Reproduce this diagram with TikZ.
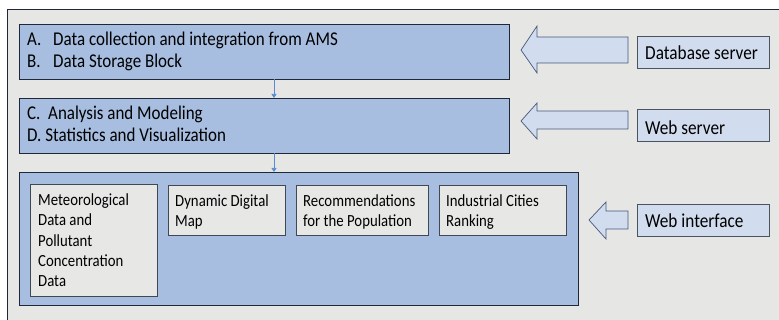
\documentclass[tikz,border=0pt]{standalone}
\usepackage{fontspec}
\setmainfont{Carlito}
\newfontfamily\tallfont[FakeStretch=0.87]{Carlito}
\usetikzlibrary{arrows.meta}
\definecolor{bgc}{HTML}{E6E7E5}
\definecolor{bigfill}{HTML}{A7BEE0}
\definecolor{darkline}{HTML}{1E2838}
\definecolor{lightfill}{HTML}{D1DCEE}
\definecolor{arrline}{HTML}{46587A}
\definecolor{subfill}{HTML}{E7E8E6}
\definecolor{linkc}{HTML}{5A8AD2}
\tikzset{
  bigbox/.style={draw=darkline, fill=bigfill, line width=0.9pt, anchor=north west, inner sep=0pt},
  subbox/.style={draw=darkline!85, fill=subfill, line width=0.9pt, anchor=north west, inner sep=0pt},
  srvbox/.style={draw=darkline!80, fill=lightfill, line width=0.9pt, anchor=north west, inner sep=0pt},
  bigtxt/.style={anchor=base west, inner sep=0pt, font=\tallfont\fontsize{19.5}{22}\selectfont},
  subtxt/.style={anchor=north west, inner sep=0pt, align=left, font=\tallfont\fontsize{17}{20.3}\selectfont},
  srvtxt/.style={anchor=west, inner sep=0pt, font=\tallfont\fontsize{19.8}{22}\selectfont},
  blockarrow/.style={draw=arrline, fill=lightfill, line width=0.7pt, line join=miter},
  link/.style={draw=linkc, line width=0.7pt, -{Triangle[length=4pt,width=5pt]}}
}
\begin{document}
\begin{tikzpicture}[x=1pt,y=-1pt]
\useasboundingbox (0,0) rectangle (779,320);
\clip (0,0) rectangle (779,320);
\fill[white] (0,0) rectangle (779,320);
\draw[draw=darkline, fill=bgc, line width=0.9pt] (7,9) rectangle (800,340);
% big boxes
\node[bigbox, minimum width=490pt, minimum height=55pt] (b1) at (19,24) {};
\node[bigbox, minimum width=490pt, minimum height=55pt] (b2) at (19,98) {};
\node[bigbox, minimum width=559pt, minimum height=133pt] (b3) at (19,172) {};
% texts in box 1 and 2
\node[bigtxt] (ta) at (27,46) {A.};
\node[bigtxt] (tat) at (53,46) {Data collection and integration from AMS};
\node[bigtxt] (tb) at (27,68) {B.};
\node[bigtxt] (tbt) at (53,68) {Data Storage Block};
\node[bigtxt] (tc) at (27,120) {C.\ \ Analysis and Modeling};
\node[bigtxt] (td) at (27,142) {D. Statistics and Visualization};
% links
\coordinate (l1a) at (274,79);
\coordinate (l1b) at (274,98);
\coordinate (l2a) at (274,153);
\coordinate (l2b) at (274,172);
\draw[link] (l1a) -- (l1b);
\draw[link] (l2a) -- (l2b);
% sub boxes
\node[subbox, minimum width=127pt, minimum height=112pt] (s1) at (30,184) {};
\node[subbox, minimum width=117pt, minimum height=50pt] (s2) at (168,185) {};
\node[subbox, minimum width=132pt, minimum height=50pt] (s3) at (296,185) {};
\node[subbox, minimum width=127pt, minimum height=50pt] (s4) at (439,185) {};
\node[subtxt] (s1t) at ([xshift=8pt,yshift=-9.5pt]s1.north west) {Meteorological\\Data and\\Pollutant\\Concentration\\Data};
\node[subtxt] (s2t) at ([xshift=7pt,yshift=-9.5pt]s2.north west) {Dynamic Digital\\Map};
\node[subtxt] (s3t) at ([xshift=7pt,yshift=-9.5pt]s3.north west) {Recommendations\\for the Population};
\node[subtxt] (s4t) at ([xshift=7pt,yshift=-9.5pt]s4.north west) {Industrial Cities\\Ranking};
% server boxes
\node[srvbox, minimum width=132pt, minimum height=32pt] (r1) at (637,36) {};
\node[srvbox, minimum width=132pt, minimum height=32pt] (r2) at (637,109) {};
\node[srvbox, minimum width=132pt, minimum height=32pt] (r3) at (637,204) {};
\node[srvtxt] (r1t) at ([xshift=8pt]r1.west) {Database server};
\node[srvtxt] (r2t) at ([xshift=8pt,yshift=-2pt]r2.west) {Web server};
\node[srvtxt] (r3t) at ([xshift=8pt]r3.west) {Web interface};
% block arrows
\draw[blockarrow] (521,50) -- (537,26) -- (537,37) -- (628,37) -- (628,63) -- (537,63) -- (537,73) -- cycle;
\draw[blockarrow] (521,121) -- (537,103) -- (537,111) -- (628,111) -- (628,129) -- (537,129) -- (537,139) -- cycle;
\draw[blockarrow] (589,220) -- (606,202) -- (606,211) -- (628,211) -- (628,229) -- (606,229) -- (606,239) -- cycle;
\end{tikzpicture}
\end{document}
